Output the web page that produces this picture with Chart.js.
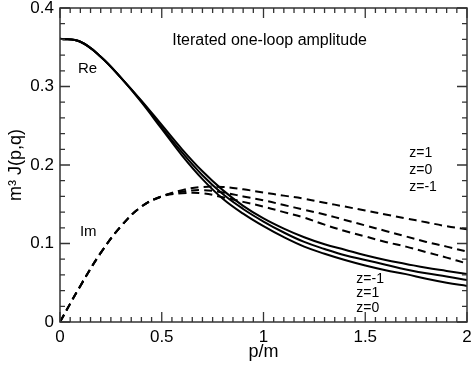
<!DOCTYPE html>
<html>
<head>
<meta charset="utf-8">
<script src="https://cdn.jsdelivr.net/npm/chart.js@4.4.0/dist/chart.umd.min.js"></script>
<style>
  html, body { margin: 0; padding: 0; background: #fff; }
  #wrap { width: 474px; height: 365px; }
</style>
</head>
<body>
<div id="wrap"><canvas id="myChart" width="474" height="365"></canvas></div>
<script>
// p/m sample points
const pm = [0, 0.1, 0.2, 0.3, 0.4, 0.5, 0.6, 0.7, 0.8, 0.9, 1.0,
            1.1, 1.2, 1.3, 1.4, 1.5, 1.6, 1.7, 1.8, 1.9, 2.0];

// real part (solid)
const reZm1 = [0.361, 0.357, 0.338, 0.311, 0.282, 0.251, 0.220, 0.192, 0.168, 0.148, 0.132,
               0.119, 0.108, 0.099, 0.092, 0.085, 0.079, 0.074, 0.069, 0.065, 0.061];
const reZ1  = [0.361, 0.357, 0.338, 0.311, 0.281, 0.248, 0.216, 0.187, 0.163, 0.144, 0.128,
               0.114, 0.102, 0.093, 0.085, 0.079, 0.073, 0.067, 0.062, 0.058, 0.0535];
const reZ0  = [0.361, 0.357, 0.338, 0.311, 0.280, 0.246, 0.212, 0.182, 0.157, 0.138, 0.122,
               0.108, 0.096, 0.087, 0.079, 0.072, 0.066, 0.061, 0.055, 0.050, 0.046];

// imaginary part (dashed)
const imZ1  = [0, 0.046, 0.088, 0.122, 0.147, 0.160, 0.168, 0.172, 0.172, 0.169, 0.165,
               0.161, 0.157, 0.152, 0.147, 0.142, 0.137, 0.132, 0.127, 0.122, 0.118];
const imZ0  = [0, 0.046, 0.088, 0.122, 0.147, 0.160, 0.166, 0.168, 0.165, 0.160, 0.155,
               0.149, 0.143, 0.137, 0.130, 0.123, 0.116, 0.109, 0.102, 0.096, 0.0896];
const imZm1 = [0, 0.046, 0.088, 0.122, 0.147, 0.160, 0.164, 0.164, 0.159, 0.153, 0.147,
               0.140, 0.133, 0.124, 0.116, 0.109, 0.102, 0.096, 0.089, 0.082, 0.0745];

const xTicks = [0, 0.5, 1, 1.5, 2];
const yTicks = [0, 0.1, 0.2, 0.3, 0.4];

const font = '"Liberation Sans", Arial, Helvetica, sans-serif';

// text labels placed in data coordinates
const notes = [
    { text: 'Iterated one-loop amplitude', x: 1.03, y: 0.359, size: 16, align: 'center' },
    { text: 'Re', x: 0.088, y: 0.322, size: 15, align: 'left' },
    { text: 'Im', x: 0.098, y: 0.115, size: 15, align: 'left' },
    { text: 'z=1', x: 1.716, y: 0.215, size: 14, align: 'left' },
    { text: 'z=0', x: 1.716, y: 0.194, size: 14, align: 'left' },
    { text: 'z=-1', x: 1.716, y: 0.172, size: 14, align: 'left' },
    { text: 'z=-1', x: 1.456, y: 0.055, size: 14, align: 'left' },
    { text: 'z=1', x: 1.456, y: 0.037, size: 14, align: 'left' },
    { text: 'z=0', x: 1.456, y: 0.018, size: 14, align: 'left' }
];

const pts = (ys) => pm.map((x, i) => ({ x: x, y: ys[i] }));

const mkSet = (label, ys, dashed) => ({
    label: label,
    data: pts(ys),
    borderColor: '#000',
    borderWidth: 2,
    borderDash: dashed ? [8, 5] : [],
    pointRadius: 0,
    fill: false,
    tension: 0.4
});

// box round the plot, inward ticks on all four sides, and the text notes
const frame = {
    id: 'frame',
    afterDraw(chart) {
        const ctx = chart.ctx;
        const a = chart.chartArea;
        const xs = chart.scales.x, ys = chart.scales.y;
        ctx.save();
        ctx.strokeStyle = '#333';
        ctx.lineWidth = 1.5;
        ctx.setLineDash([]);
        ctx.strokeRect(a.left, a.top, a.right - a.left, a.bottom - a.top);
        ctx.lineWidth = 1.3;
        ctx.beginPath();
        for (let i = 0; i <= 40; i++) {
            const px = xs.getPixelForValue(i * 0.05);
            const len = (i % 10 === 0) ? 10 : 5;
            ctx.moveTo(px, a.bottom);
            ctx.lineTo(px, a.bottom - len);
            ctx.moveTo(px, a.top);
            ctx.lineTo(px, a.top + len);
        }
        for (let i = 0; i <= 20; i++) {
            const py = ys.getPixelForValue(i * 0.02);
            const len = (i % 5 === 0) ? 10 : 5;
            ctx.moveTo(a.left, py);
            ctx.lineTo(a.left + len, py);
            ctx.moveTo(a.right, py);
            ctx.lineTo(a.right - len, py);
        }
        ctx.stroke();

        ctx.fillStyle = '#000';
        ctx.textBaseline = 'middle';
        notes.forEach(n => {
            ctx.font = n.size + 'px ' + font;
            ctx.textAlign = n.align;
            ctx.fillText(n.text, xs.getPixelForValue(n.x), ys.getPixelForValue(n.y));
        });
        ctx.restore();
    }
};

new Chart(document.getElementById('myChart').getContext('2d'), {
    type: 'line',
    data: {
        datasets: [
            mkSet('Re z=-1', reZm1, false),
            mkSet('Re z=1', reZ1, false),
            mkSet('Re z=0', reZ0, false),
            mkSet('Im z=1', imZ1, true),
            mkSet('Im z=0', imZ0, true),
            mkSet('Im z=-1', imZm1, true)
        ]
    },
    options: {
        responsive: false,
        animation: false,
        layout: { padding: { top: 8, right: 7, left: 0, bottom: 0 } },
        plugins: { legend: { display: false }, tooltip: { enabled: false } },
        scales: {
            x: {
                type: 'linear',
                min: 0, max: 2,
                grid: { display: false, drawTicks: false },
                border: { display: false },
                afterBuildTicks: (s) => { s.ticks = xTicks.map(v => ({ value: v })); },
                afterFit: (s) => { s.height = 43; s.paddingLeft = 0; s.paddingRight = 0; },
                ticks: { color: '#000', padding: 5, maxRotation: 0, font: { family: font, size: 17 },
                         callback: (v) => String(v) },
                title: { display: true, text: 'p/m', color: '#000', padding: { top: 0, bottom: 2 },
                         font: { family: font, size: 18 } }
            },
            y: {
                type: 'linear',
                min: 0, max: 0.4,
                grid: { display: false, drawTicks: false },
                border: { display: false },
                afterBuildTicks: (s) => { s.ticks = yTicks.map(v => ({ value: v })); },
                afterFit: (s) => { s.width = 60; s.paddingTop = 0; s.paddingBottom = 0; },
                ticks: { color: '#000', padding: 6, font: { family: font, size: 17 },
                         callback: (v) => String(v) },
                title: { display: true, text: 'm³ J(p,q)', color: '#000', padding: { top: 5, bottom: 0 },
                         font: { family: font, size: 18 } }
            }
        }
    },
    plugins: [frame]
});
</script>
</body>
</html>
